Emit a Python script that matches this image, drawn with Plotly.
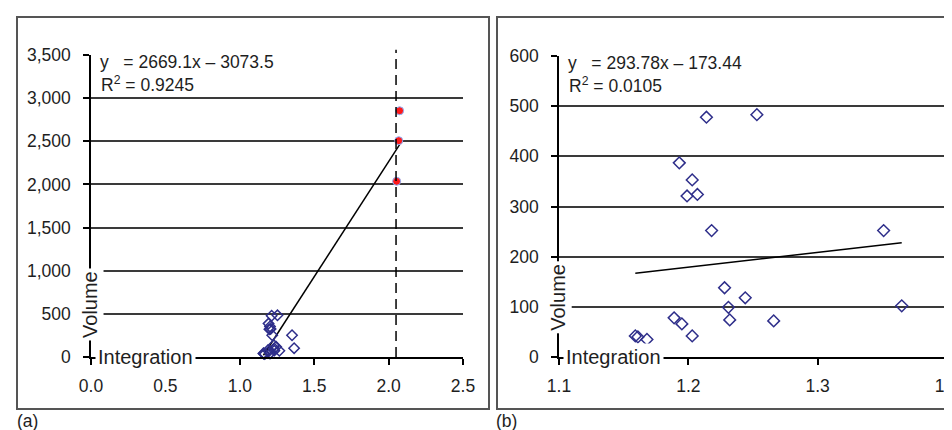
import plotly.graph_objects as go

# ---------------- data ----------------
# shared "integration" sample (blue open markers)
int_x = [1.214, 1.253, 1.193, 1.203, 1.199, 1.207, 1.218, 1.351, 1.228, 1.244,
         1.231, 1.365, 1.189, 1.195, 1.232, 1.266, 1.203, 1.159, 1.161, 1.168]
int_y = [478, 483, 387, 353, 321, 324, 252, 252, 138, 118,
         99, 102, 78, 66, 74, 72, 42, 42, 40, 35]
# outliers only in panel (a) (red filled markers)
out_x = [2.074, 2.068, 2.054]
out_y = [2854, 2507, 2036]
cutoff_x = 2.05

# trend-line equations shown on the chart
fit_a = (2669.1, -3073.5)
fit_b = (293.78, -173.44)

ticks_a_x = [0.0, 0.5, 1.0, 1.5, 2.0, 2.5]
ticks_a_y = [0, 500, 1000, 1500, 2000, 2500, 3000, 3500]
ticks_b_x = [1.1, 1.2, 1.3, 1.4]
ticks_b_y = [0, 100, 200, 300, 400, 500, 600]

eq_a = "y\u00a0\u00a0\u00a0= 2669.1x \u2013 3073.5"
r2_a = "R<sup>2</sup>\u00a0= 0.9245"
eq_b = "y\u00a0\u00a0\u00a0= 293.78x \u2013 173.44"
r2_b = "R<sup>2</sup>\u00a0= 0.0105"

# ---------------- figure ----------------
W, H = 952, 430
FONT = "Liberation Sans, Arial, sans-serif"
TXT = "#1e1e1e"
BLUE = "#2e2e8a"
GRID = "#3a3a3a"


def px_x(p):
    return p / W


def px_y(p):
    return 1 - p / H


fig = go.Figure()

all_a_x = int_x + out_x
xa0, xa1 = min(all_a_x), max(all_a_x)
xb0, xb1 = min(int_x), max(int_x)

# panel (a)
fig.add_trace(go.Scatter(x=[xa0, xa1], y=[fit_a[0] * xa0 + fit_a[1], fit_a[0] * xa1 + fit_a[1]],
                         mode="lines", line=dict(color="black", width=1.5),
                         xaxis="x", yaxis="y", showlegend=False))
fig.add_trace(go.Scatter(x=int_x, y=int_y, mode="markers",
                         marker=dict(symbol="diamond-open", size=8, color=BLUE, line=dict(width=1.5, color=BLUE)),
                         xaxis="x", yaxis="y", showlegend=False, cliponaxis=False))
fig.add_trace(go.Scatter(x=out_x, y=out_y, mode="markers",
                         marker=dict(symbol="circle", size=8, color="#ff1a1a", line=dict(width=1, color="#8ab4ff")),
                         xaxis="x", yaxis="y", showlegend=False))

# panel (b)
fig.add_trace(go.Scatter(x=[xb0, xb1], y=[fit_b[0] * xb0 + fit_b[1], fit_b[0] * xb1 + fit_b[1]],
                         mode="lines", line=dict(color="black", width=1.5),
                         xaxis="x2", yaxis="y2", showlegend=False))
fig.add_trace(go.Scatter(x=int_x, y=int_y, mode="markers",
                         marker=dict(symbol="diamond-open", size=9, color=BLUE, line=dict(width=1.5, color=BLUE)),
                         xaxis="x2", yaxis="y2", showlegend=False, cliponaxis=False))

tickfont = dict(family=FONT, size=17.5, color=TXT)

common_x = dict(showgrid=False, zeroline=False, showline=True, linecolor="black", linewidth=1.5,
                ticks="outside", ticklen=6, tickwidth=1.5, tickcolor="black", automargin=False,
                tickfont=tickfont, ticklabelstandoff=6, tickformat=".1f")
common_y = dict(showgrid=True, gridcolor=GRID, gridwidth=1.5, zeroline=False, showline=True,
                linecolor="black", linewidth=1.5, ticks="outside", ticklen=6, tickwidth=1.5,
                tickcolor="black", tickfont=tickfont, ticklabelstandoff=9, automargin=False)

fig.update_layout(
    width=W, height=H, margin=dict(l=0, r=0, t=0, b=0, autoexpand=False),
    paper_bgcolor="white", plot_bgcolor="white",
    font=dict(family=FONT, color=TXT),
    xaxis=dict(domain=[px_x(83), px_x(455)], range=[0, 2.5], tickvals=ticks_a_x, anchor="y", **common_x),
    yaxis=dict(domain=[px_y(349), px_y(47)], range=[0, 3500], tickvals=ticks_a_y, tickformat=",",
               anchor="x", **common_y),
    xaxis2=dict(domain=[px_x(551), px_x(939)], range=[1.1, 1.4], tickvals=ticks_b_x, anchor="y2", **common_x),
    yaxis2=dict(domain=[px_y(349), px_y(48)], range=[0, 600], tickvals=ticks_b_y, anchor="x2", **common_y),
)

# dashed cut-off line in (a)
fig.add_shape(type="line", xref="x", yref="y domain", x0=cutoff_x, x1=cutoff_x, y0=0, y1=1.017,
              line=dict(color="black", width=1.5, dash="10px,6px"))

# frames
fig.add_shape(type="rect", xref="paper", yref="paper", x0=px_x(9), x1=px_x(481), y0=px_y(401), y1=px_y(9),
              line=dict(color="#555555", width=2))
fig.add_shape(type="rect", xref="paper", yref="paper", x0=px_x(489), x1=px_x(975), y0=px_y(401), y1=px_y(9),
              line=dict(color="#555555", width=2))

ann = []
for xr, yr, eq, r2, vol_y in [("x", "y", eq_a, r2_a, 603), ("x2", "y2", eq_b, r2_b, 118)]:
    ann.append(dict(xref=xr + " domain", yref=yr + " domain", x=0, y=1, xanchor="left", yanchor="middle",
                    xshift=6, yshift=-7, text=eq, showarrow=False, bgcolor="white", borderpad=2,
                    font=dict(family=FONT, size=17.5, color=TXT), align="left"))
    ann.append(dict(xref=xr + " domain", yref=yr + " domain", x=0, y=1, xanchor="left", yanchor="middle",
                    xshift=8, yshift=-29, text=r2, showarrow=False,
                    font=dict(family=FONT, size=17.5, color=TXT), align="left"))
    ann.append(dict(xref=xr + " domain", yref=yr, x=0, y=0, xanchor="left", yanchor="middle",
                    xshift=4, text="Integration", showarrow=False, bgcolor="white", borderpad=2,
                    font=dict(family=FONT, size=20, color=TXT)))
    ann.append(dict(xref=xr + " domain", yref=yr, x=0, y=vol_y, xanchor="center", yanchor="middle",
                    xshift=-1, text="Volume", textangle=-90, showarrow=False, bgcolor="white", borderpad=2,
                    font=dict(family=FONT, size=20, color=TXT)))

ann.append(dict(xref="paper", yref="paper", x=px_x(7), y=px_y(413), xanchor="left", yanchor="middle",
                text="(a)", showarrow=False, font=dict(family=FONT, size=17.5, color=TXT)))
ann.append(dict(xref="paper", yref="paper", x=px_x(486), y=px_y(413), xanchor="left", yanchor="middle",
                text="(b)", showarrow=False, font=dict(family=FONT, size=17.5, color=TXT)))
fig.update_layout(annotations=ann)

fig.write_html("out.html")
